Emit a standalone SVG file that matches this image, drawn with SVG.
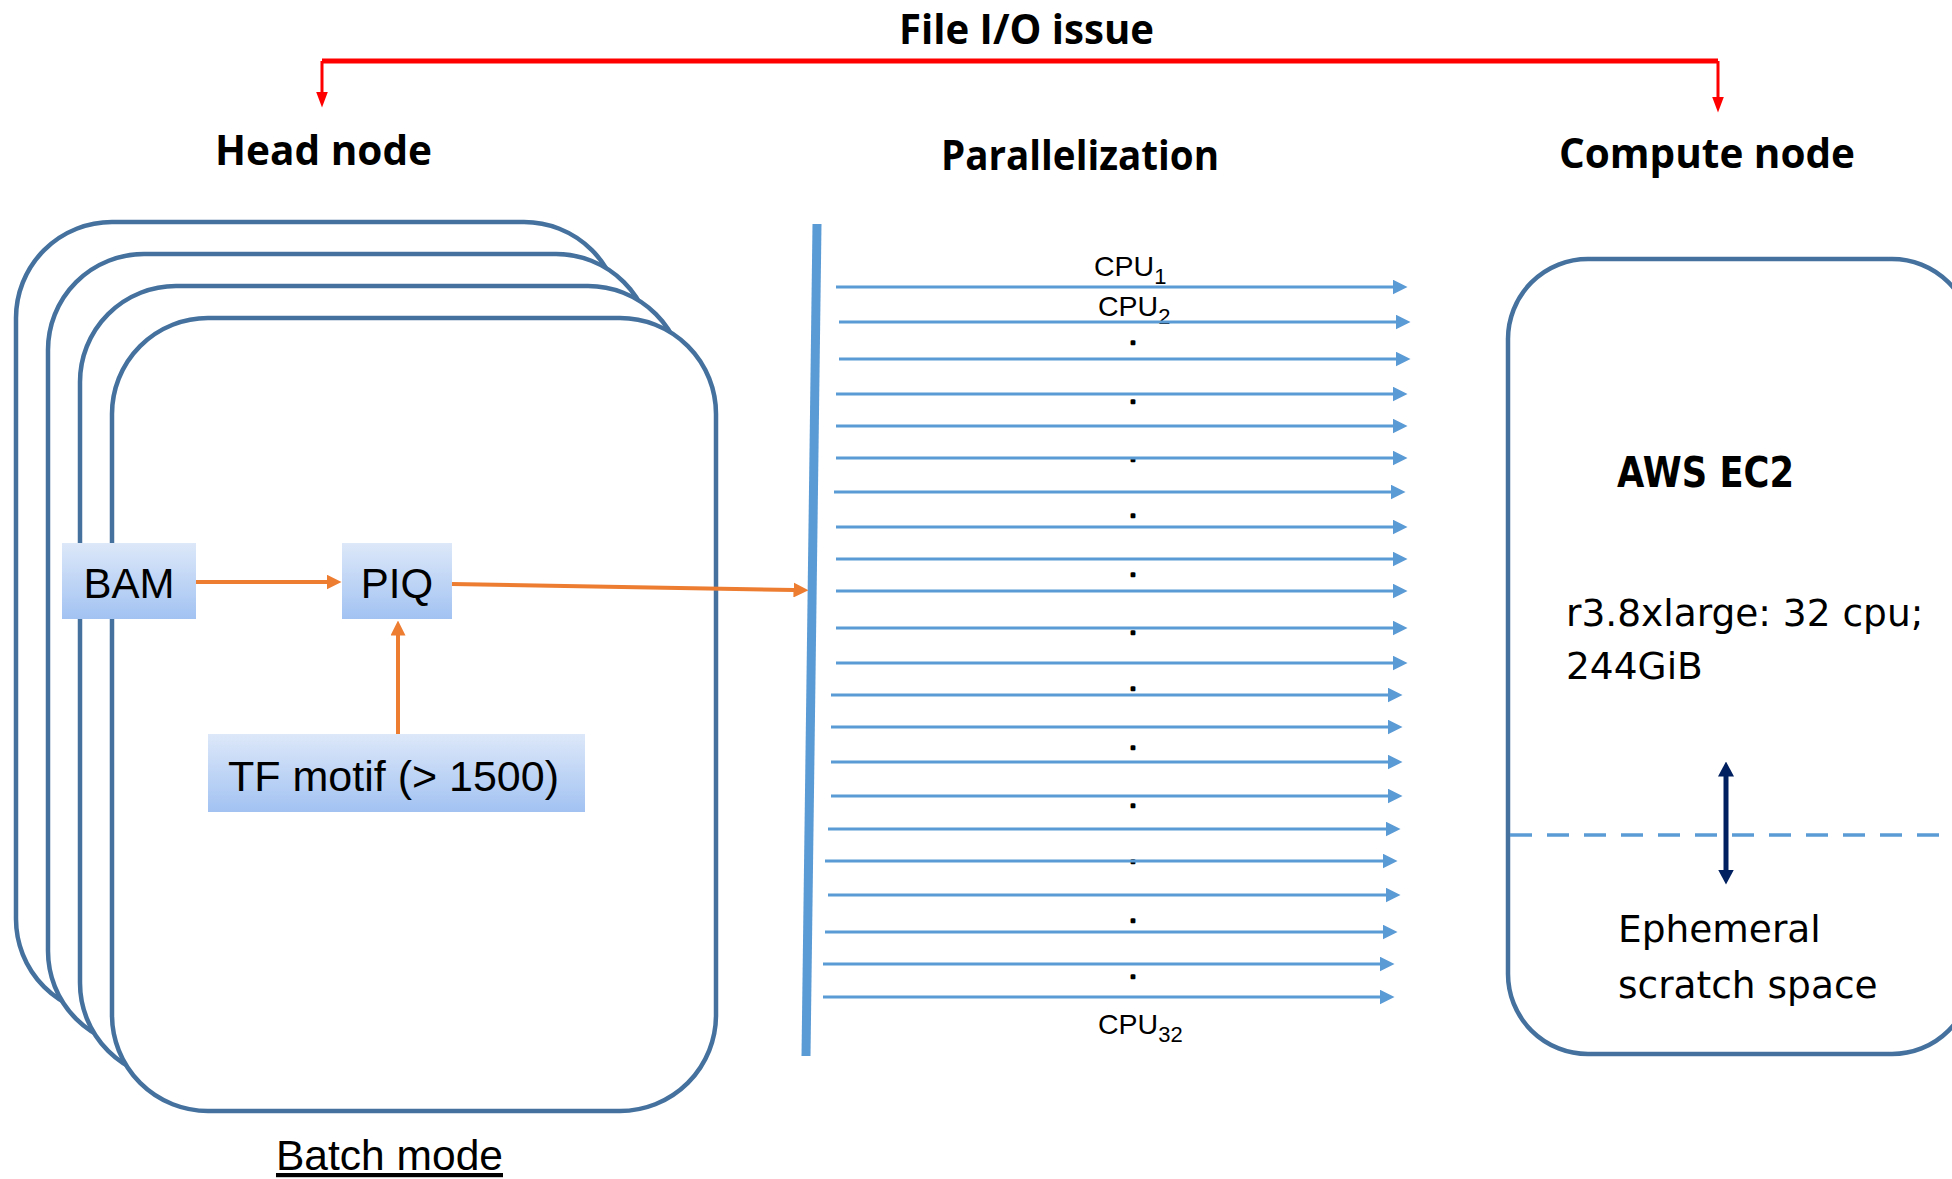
<svg xmlns="http://www.w3.org/2000/svg" width="1952" height="1179" viewBox="0 0 1952 1179">
<style>
.title{font-family:"Open Sans","Liberation Sans",sans-serif;font-weight:bold;font-size:42px;fill:#000}
.frame{fill:#fff;stroke:#44719E;stroke-width:4.5}
.box{fill:url(#boxGrad)}
.lbl{font-family:"Liberation Sans",Arial,sans-serif;font-size:42px;fill:#000}
.cpu{font-family:"Liberation Sans",Arial,sans-serif;font-size:28.5px;fill:#000}
.sub{font-size:22px}
.dot{font-family:"Liberation Sans",Arial,sans-serif;font-weight:bold;font-size:16px;fill:#000;stroke:#000;stroke-width:2.6;stroke-linejoin:round;text-anchor:middle}
.aws{font-family:"DejaVu Sans",Verdana,sans-serif;font-size:37.5px;fill:#000}
.par{stroke:#5B9BD5;stroke-width:3;fill:none;marker-end:url(#blueHead)}
.orange{stroke:#ED7D31;stroke-width:4;fill:none;marker-end:url(#orangeHead)}
</style>
<defs>
<linearGradient id="boxGrad" x1="0" y1="0" x2="0" y2="1">
<stop offset="0" stop-color="#DDE8F9"/>
<stop offset="1" stop-color="#A2C2F2"/>
</linearGradient>
<marker id="blueHead" markerUnits="userSpaceOnUse" viewBox="0 0 15 15" markerWidth="15" markerHeight="15" refX="0.5" refY="7.5" orient="auto">
<path d="M0,0 L15,7.5 L0,15 Z" fill="#5B9BD5"/>
</marker>
<marker id="orangeHead" markerUnits="userSpaceOnUse" viewBox="0 0 15 15" markerWidth="15" markerHeight="15" refX="0.5" refY="7.5" orient="auto">
<path d="M0,0 L15,7.5 L0,15 Z" fill="#ED7D31"/>
</marker>
<marker id="redHead" markerUnits="userSpaceOnUse" viewBox="0 0 16 12" markerWidth="16" markerHeight="12" refX="0.5" refY="6" orient="auto-start-reverse">
<path d="M0,0 L16,6 L0,12 Z" fill="#FF0000"/>
</marker>
<marker id="navyHead" markerUnits="userSpaceOnUse" viewBox="0 0 15 16" markerWidth="15" markerHeight="16" refX="0.5" refY="8" orient="auto-start-reverse">
<path d="M0,0 L15,8 L0,16 Z" fill="#002060"/>
</marker>
</defs>

<rect width="1952" height="1179" fill="#fff"/>

<g id="titles">
<text class="title" x="899" y="44" textLength="255" lengthAdjust="spacingAndGlyphs">File I/O issue</text>
<text class="title" x="215" y="165" textLength="217" lengthAdjust="spacingAndGlyphs">Head node</text>
<text class="title" x="941" y="170" textLength="278" lengthAdjust="spacingAndGlyphs">Parallelization</text>
<text class="title" x="1559" y="168" textLength="296" lengthAdjust="spacingAndGlyphs">Compute node</text>
</g>

<g id="head-node">
<rect class="frame" x="16" y="222" width="604" height="793" rx="96" ry="96"/>
<rect class="frame" x="48" y="254" width="604" height="793" rx="96" ry="96"/>
<rect class="frame" x="80" y="286" width="604" height="793" rx="96" ry="96"/>
<rect class="frame" x="112" y="318" width="604" height="793" rx="96" ry="96"/>
<text class="lbl" x="276" y="1170" textLength="227" lengthAdjust="spacingAndGlyphs" text-decoration="underline">Batch mode</text>
</g>

<g id="bam">
<rect class="box" x="62" y="543" width="134" height="76"/>
<text class="lbl" x="129" y="598" text-anchor="middle">BAM</text>
</g>

<g id="piq">
<rect class="box" x="342" y="543" width="110" height="76"/>
<text class="lbl" x="397" y="598" text-anchor="middle">PIQ</text>
</g>

<g id="tf-motif">
<rect class="box" x="208" y="734" width="377" height="78"/>
<text class="lbl" x="228" y="791" textLength="331" lengthAdjust="spacingAndGlyphs">TF motif  (&gt; 1500)</text>
</g>

<g id="parallelization">
<line x1="817" y1="224" x2="806" y2="1056" stroke="#5B9BD5" stroke-width="9"/>
<text class="cpu" x="1094" y="276">CPU<tspan class="sub" dy="8">1</tspan></text>
<text class="cpu" x="1098" y="316">CPU<tspan class="sub" dy="8">2</tspan></text>
<text class="cpu" x="1098" y="1034">CPU<tspan class="sub" dy="8">32</tspan></text>
<text class="dot" x="1133" y="343.5">.</text>
<text class="dot" x="1133" y="402.5">.</text>
<text class="dot" x="1133" y="460.5">.</text>
<text class="dot" x="1133" y="516.5">.</text>
<text class="dot" x="1133" y="575.5">.</text>
<text class="dot" x="1133" y="633.5">.</text>
<text class="dot" x="1133" y="689.5">.</text>
<text class="dot" x="1133" y="748.5">.</text>
<text class="dot" x="1133" y="806.5">.</text>
<text class="dot" x="1133" y="862.5">.</text>
<text class="dot" x="1133" y="921.5">.</text>
<text class="dot" x="1133" y="977.5">.</text>
</g>

<g id="compute-node">
<rect class="frame" x="1508" y="259" width="464" height="795" rx="80" ry="80"/>
<line x1="1510" y1="835" x2="1952" y2="835" stroke="#5B9BD5" stroke-width="3.5" stroke-dasharray="22 15"/>
<text x="1617" y="487" font-family="'DejaVu Sans',Verdana,sans-serif" font-weight="bold" font-size="42" textLength="177" lengthAdjust="spacingAndGlyphs">AWS EC2</text>
<text class="aws" x="1566" y="626">r3.8xlarge: 32 cpu;</text>
<text class="aws" x="1566" y="679">244GiB</text>
<text class="aws" x="1618" y="942">Ephemeral</text>
<text class="aws" x="1618" y="998">scratch space</text>
</g>

<g id="connectors">
<path d="M322,61 H1718" stroke="#FF0000" stroke-width="5" fill="none"/>
<path d="M322,92 V61" stroke="#FF0000" stroke-width="3" fill="none" marker-start="url(#redHead)"/>
<path d="M1718,61 V97" stroke="#FF0000" stroke-width="3" fill="none" marker-end="url(#redHead)"/>
<path class="orange" d="M196,582 H327"/>
<path class="orange" d="M452,584 L794,590"/>
<path class="orange" d="M398,734 V635"/>
<path d="M1726,776 V870" stroke="#002060" stroke-width="5" fill="none" marker-start="url(#navyHead)" marker-end="url(#navyHead)"/>
<path class="par" d="M836,287 H1393"/>
<path class="par" d="M839,322 H1396"/>
<path class="par" d="M839,359 H1396"/>
<path class="par" d="M836,394 H1393"/>
<path class="par" d="M836,426 H1393"/>
<path class="par" d="M836,458 H1393"/>
<path class="par" d="M834,492 H1391"/>
<path class="par" d="M836,527 H1393"/>
<path class="par" d="M836,559 H1393"/>
<path class="par" d="M836,591 H1393"/>
<path class="par" d="M836,628 H1393"/>
<path class="par" d="M836,663 H1393"/>
<path class="par" d="M831,695 H1388"/>
<path class="par" d="M831,727 H1388"/>
<path class="par" d="M831,762 H1388"/>
<path class="par" d="M831,796 H1388"/>
<path class="par" d="M828,829 H1386"/>
<path class="par" d="M825,861 H1383"/>
<path class="par" d="M828,895 H1386"/>
<path class="par" d="M825,932 H1383"/>
<path class="par" d="M823,964 H1380"/>
<path class="par" d="M823,997 H1380"/>
</g>
</svg>
